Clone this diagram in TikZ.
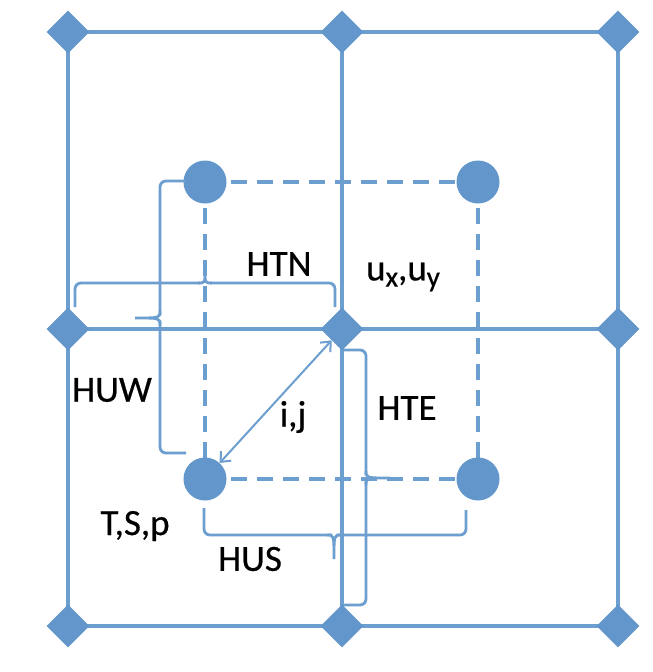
\documentclass[tikz,border=0pt]{standalone}
\usepackage{fontspec}
\setmainfont{Carlito}
\newfontfamily\labfont[FakeBold=0.6]{Carlito}
\usetikzlibrary{shapes.geometric,arrows.meta,backgrounds}
\definecolor{gblue}{RGB}{99,150,202}
\definecolor{lblue}{RGB}{108,158,208}
\begin{document}
\begin{tikzpicture}[x=1pt,y=-1pt,
  gridpt/.style={diamond,fill=gblue,inner sep=0pt,minimum width=43pt,minimum height=43pt},
  cellpt/.style={circle,fill=gblue,inner sep=0pt,minimum size=43pt},
  gridline/.style={draw=lblue,line width=3.2pt},
  cellline/.style={draw=lblue,line width=3.2pt,dash pattern=on 16pt off 10pt},
  bracestyle/.style={draw=lblue,line width=2.8pt,rounded corners=6pt},
  tipstyle/.style={draw=lblue,line width=2.8pt},
  lab/.style={font=\labfont\fontsize{37}{40}\selectfont,text=black,inner sep=0pt}]
\useasboundingbox (0,0) rectangle (653,672);
% grid points
\node[gridpt] (g11) at (68,32) {};
\node[gridpt] (g21) at (342,32) {};
\node[gridpt] (g31) at (618,32) {};
\node[gridpt] (g12) at (68,329) {};
\node[gridpt] (g22) at (342,329) {};
\node[gridpt] (g32) at (618,329) {};
\node[gridpt] (g13) at (68,626) {};
\node[gridpt] (g23) at (342,626) {};
\node[gridpt] (g33) at (618,626) {};
% cell centres
\node[cellpt] (c1) at (205,182) {};
\node[cellpt] (c2) at (478,182) {};
\node[cellpt] (c3) at (205,479) {};
\node[cellpt] (c4) at (478,479) {};
\begin{pgfonlayer}{background}
\fill[white] (0,0) rectangle (653,672);
\path[gridline] (g11.center) -- (g21.center) -- (g31.center);
\path[gridline] (g12.center) -- (g22.center) -- (g32.center);
\path[gridline] (g13.center) -- (g23.center) -- (g33.center);
\path[gridline] (g11.center) -- (g12.center) -- (g13.center);
\path[gridline] (g21.center) -- (g22.center) -- (g23.center);
\path[gridline] (g31.center) -- (g32.center) -- (g33.center);
\path[cellline] (c1.center) -- (c2.center);
\path[cellline] (c3.center) -- (c4.center);
\path[cellline] (c1.center) -- (c3.center);
\path[cellline] (c2.center) -- (c4.center);
\end{pgfonlayer}
% braces
% HTN (top, tip up)
\path[bracestyle] (75,307) -- (75,283) -- (200,283);
\path[tipstyle] (198,283) .. controls (205,283) .. (205,271) .. controls (205,283) .. (212,283);
\path[bracestyle] (210,283) -- (335,283) -- (335,307);
% HUW (left, tip left)
\path[bracestyle] (186,181) -- (160,181) -- (160,315);
\path[tipstyle] (160,311) .. controls (160,318) .. (135,318) .. controls (160,318) .. (160,325);
\path[bracestyle] (160,321) -- (160,453) -- (186,453);
% HTE (right, tip right)
\path[bracestyle] (344,350) -- (366,350) -- (366,475);
\path[tipstyle] (366,471) .. controls (366,478) .. (390,478) .. controls (366,478) .. (366,485);
\path[bracestyle] (366,481) -- (366,605) -- (344,605);
% HUS (bottom, tip down)
\path[bracestyle] (204,508) -- (204,535) -- (332,535);
\path[tipstyle] (327,535) .. controls (334,535) .. (334,559) .. controls (334,535) .. (341,535);
\path[bracestyle] (337,535) -- (466,535) -- (466,510);
% arrow
\draw[draw=lblue,line width=2pt,{Straight Barb[length=8pt,width=14pt]}-{Straight Barb[length=8pt,width=14pt]}]
  (c3) -- (g22);
% labels
\node[lab] (htn) at (279,264) {HTN};
\node[lab] (uxy) at (403,277) {u\raisebox{-0.35ex}{\fontsize{29}{31}\selectfont x},u\raisebox{-0.35ex}{\fontsize{29}{31}\selectfont y}};
\node[lab] (huw) at (112,390) {HUW};
\node[lab] (ij) at (293,417) {i,j};
\node[lab] (hte) at (407,408) {HTE};
\node[lab] (tsp) at (135,526) {T,S,p};
\node[lab] (hus) at (250,559) {HUS};
\end{tikzpicture}
\end{document}
